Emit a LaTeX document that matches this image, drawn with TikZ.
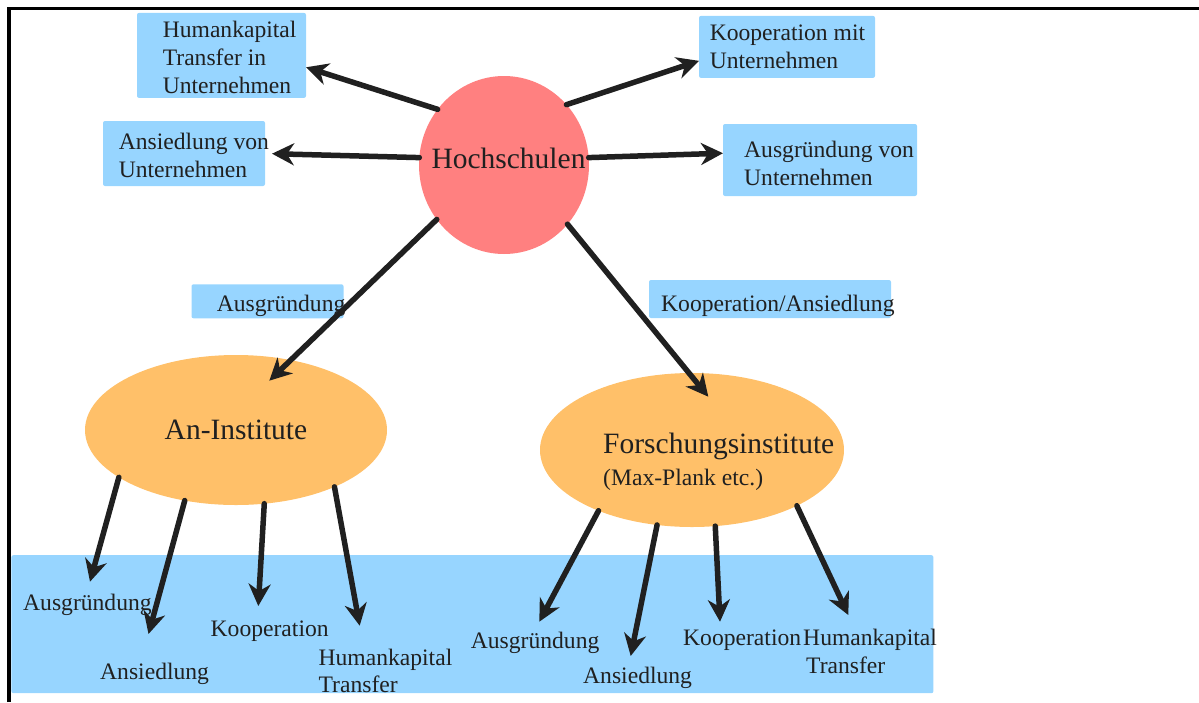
\documentclass[tikz,border=0pt]{standalone}
\usepackage{fontspec}
\setmainfont{Liberation Serif}
\usetikzlibrary{positioning,shapes.geometric,arrows.meta}

\definecolor{hsred}{RGB}{255,128,128}
\definecolor{instorange}{RGB}{255,192,105}
\definecolor{boxblue}{RGB}{151,213,255}
\definecolor{ink}{RGB}{32,32,32}

\begin{document}
\begin{tikzpicture}[%
			x=1pt, y=-1pt,
			font=\fontsize{23.6}{28}\selectfont,
			>={Stealth[length=22pt,width=22pt,inset=7pt]},
			line cap=round,
			flow/.style={->, draw=ink, line width=5.5pt},
			infobox/.style={%
				fill=boxblue,
				rounded corners=2pt,
				inner sep=0pt,
				outer sep=0pt
			},
			blob/.style={ellipse, inner sep=0pt, outer sep=0pt},
			lbl/.style={text=ink, inner sep=0pt, align=left, anchor=base west},
			biglbl/.style={font=\fontsize{29.5}{34}\selectfont, text=ink}
			]
			\useasboundingbox (0,0) rectangle (1199,702);
			\draw[line width=3.3pt, line cap=butt] (9,702) -- (9,8.3) -- (1199,8.3);

			% blue areas
			\node[infobox, minimum width=922pt, minimum height=138pt] (base) at (472.4,624.2) {};
			\node[infobox, minimum width=169pt, minimum height=85pt] (hk) at (221.5,55.4) {};
			\node[infobox, minimum width=162pt, minimum height=65pt] (av) at (184,153.5) {};
			\node[infobox, minimum width=176pt, minimum height=62pt] (km) at (787,46.9) {};
			\node[infobox, minimum width=194pt, minimum height=72pt] (agv) at (820,160) {};
			\node[infobox, minimum width=152pt, minimum height=34pt] (ag) at (267.5,301.3) {};
			\node[infobox, minimum width=242pt, minimum height=38pt] (kan) at (770,299) {};

			% university and institutes
			\node[blob, fill=hsred, minimum width=170pt, minimum height=178pt] (hs) at (504,165) {};
			\node[biglbl, inner sep=0pt, anchor=base] (hstxt) at (508.5,168) {Hochschulen};
			\node[blob, fill=instorange, minimum width=302pt, minimum height=150pt, biglbl] (ai) at (236,430) {An-Institute};
			\node[blob, fill=instorange, minimum width=304pt, minimum height=154pt] (fi) at (692,450) {};
			\node[lbl, biglbl] (fitxt) at (603,453) {Forschungsinstitute};
			\node[lbl] (fisub) at (603,485) {(Max-Plank etc.)};

			% texts (base = last line)
			\node[lbl] (hktxt) at (162.6,93) {Humankapital\\Transfer in\\Unternehmen};
			\node[lbl] (avtxt) at (118.6,177) {Ansiedlung von\\Unternehmen};
			\node[lbl] (kmtxt) at (709.6,68.3) {Kooperation mit\\Unternehmen};
			\node[lbl] (agvtxt) at (744,185) {Ausgründung von\\Unternehmen};
			\node[lbl] (agtxt) at (216.7,311.7) {Ausgründung};
			\node[lbl] (kantxt) at (661,311) {Kooperation/Ansiedlung};

			\node[lbl] (aiag) at (23,610.7) {Ausgründung};
			\node[lbl] (aian) at (100,679) {Ansiedlung};
			\node[lbl] (aiko) at (210.5,636.7) {Kooperation};
			\node[lbl, font=\fontsize{23.6}{27}\selectfont] (aihk) at (318.4,692.5) {Humankapital\\Transfer};
			\node[lbl] (fiag) at (470.7,648.3) {Ausgründung};
			\node[lbl] (fian) at (583,683) {Ansiedlung};
			\node[lbl] (fiko) at (683,645) {Kooperation};
			\node[lbl] (fihk) at (803,673.3) {Humankapital\\\hspace{3pt}Transfer};

			% arrow tips
			\coordinate (aitip) at (269.3,380.7);
			\coordinate (fitip) at (708.3,396.7);
			\coordinate (aiagtip) at (90,581.7);
			\coordinate (aiantip) at (148.5,634);
			\coordinate (aikotip) at (258.3,606);
			\coordinate (aihktip) at (359.7,625.7);
			\coordinate (fiagtip) at (539.3,621.7);
			\coordinate (fiantip) at (630.7,656);
			\coordinate (fikotip) at (720,621.7);
			\coordinate (fihktip) at (848.3,615);

			\draw[flow] (hs.140) -- (hk.352.7);
			\draw[flow, shorten >=7pt] (hs.175) -- (av.east);
			\draw[flow] (hs.44.5) -- (km.189);
			\draw[flow] (hs.5) -- (agv.176.6);
			\draw[flow] (hs.219) -- (aitip);
			\draw[flow] (hs.317.5) -- (fitip);

			\draw[flow] (ai.202.7) -- (aiagtip);
			\draw[flow] (ai.234.7) -- (aiantip);
			\draw[flow] (ai.291.1) -- (aikotip);
			\draw[flow] (ai.330.3) -- (aihktip);
			\draw[flow] (fi.213.3) -- (fiagtip);
			\draw[flow] (fi.245.5) -- (fiantip);
			\draw[flow] (fi.287.4) -- (fikotip);
			\draw[flow] (fi.332) -- (fihktip);
\end{tikzpicture}
\end{document}
